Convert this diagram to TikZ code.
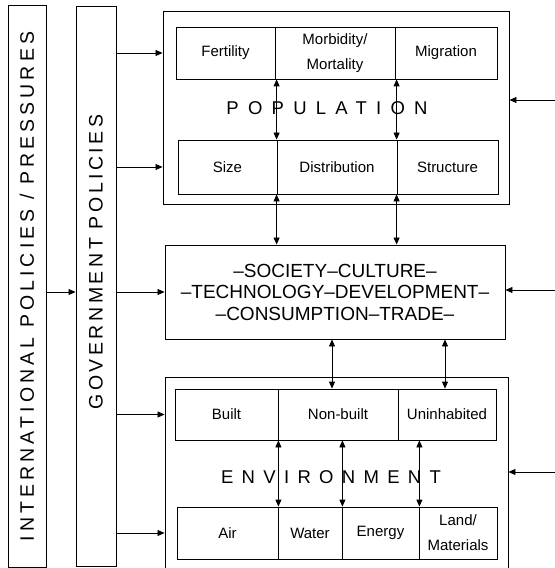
\documentclass[tikz,border=0pt]{standalone}
\usepackage{fontspec}
\setmainfont{Liberation Sans}
\newfontfamily\inttrackfont[LetterSpace=21]{Liberation Sans}
\newfontfamily\govtrackfont[LetterSpace=18]{Liberation Sans}
\newfontfamily\popwidefont[LetterSpace=50]{Liberation Sans}
\newfontfamily\envwidefont[LetterSpace=45]{Liberation Sans}
\usetikzlibrary{arrows.meta}

\tikzset{
  frame/.style={draw, line width=0.9bp, inner sep=0pt},
  cell/.style={draw, line width=0.8bp, inner sep=0pt, align=center,
    font=\fontsize{15bp}{25bp}\selectfont},
  bigtext/.style={rotate=90, inner sep=0pt},
  spacedtitle/.style={inner sep=0pt},
  arr/.style={line width=0.8bp, -{Triangle[length=7bp,width=6bp]}},
  biarr/.style={line width=0.8bp, {Triangle[length=7bp,width=6bp]}-{Triangle[length=7bp,width=6bp]}},
}

\begin{document}
\begin{tikzpicture}[x=1bp,y=-1bp]
\useasboundingbox (0,0) rectangle (555,568);

% policy columns on the left
\node[frame, minimum width=38bp, minimum height=562bp] (intbox) at (27,286) {};
\node[bigtext, font=\fontsize{19.5bp}{22bp}\inttrackfont] (inttext) at (27,286.5)
  {INTERNATIONAL POLICIES / PRESSURES};
\node[frame, minimum width=40bp, minimum height=560bp] (govbox) at (96,286) {};
\node[bigtext, font=\fontsize{19.5bp}{22bp}\govtrackfont] (govtext) at (96,262)
  {GOVERNMENT POLICIES};

% population block
\node[frame, minimum width=346bp, minimum height=193bp] (pop) at (336,107.5) {};
\node[cell, minimum width=99bp, minimum height=52bp] (fert) at (225.5,53) {Fertility};
\node[cell, minimum width=120bp, minimum height=52bp] (morb) at (335,53) {Morbidity/\\Mortality};
\node[cell, minimum width=102bp, minimum height=52bp] (migr) at (446,53) {Migration};
\node[spacedtitle, font=\fontsize{18.5bp}{22bp}\popwidefont] (poptitle) at (327,108) {POPULATION};
\node[cell, minimum width=99bp, minimum height=54bp] (size) at (227.5,167) {Size};
\node[cell, minimum width=120bp, minimum height=54bp] (dist) at (337,167) {Distribution};
\node[cell, minimum width=101bp, minimum height=54bp] (struc) at (447.5,167) {Structure};

% society block
\node[frame, minimum width=340bp, minimum height=94bp, align=center,
  font=\fontsize{19bp}{21.5bp}\selectfont] (soc) at (335,292)
  {--SOCIETY--CULTURE--\\--TECHNOLOGY--DEVELOPMENT--\\--CONSUMPTION--TRADE--};

% environment block
\node[frame, minimum width=343bp, minimum height=195bp] (env) at (336.5,474.5) {};
\node[cell, minimum width=103bp, minimum height=51bp] (built) at (226.5,414.5) {Built};
\node[cell, minimum width=120bp, minimum height=51bp] (nonb) at (338,414.5) {Non-built};
\node[cell, minimum width=98bp, minimum height=51bp] (unin) at (447,414.5) {Uninhabited};
\node[spacedtitle, font=\fontsize{18.5bp}{22bp}\envwidefont] (envtitle) at (331,477) {ENVIRONMENT};
\node[cell, minimum width=101bp, minimum height=52bp] (air) at (227.5,533) {Air};
\node[cell, minimum width=64bp, minimum height=52bp] (water) at (310,533) {Water};
\node[cell, minimum width=77bp, minimum height=52bp] (energy) at (380.5,533) {Energy};
\node[cell, minimum width=78bp, minimum height=52bp] (land) at (458,533) {Land/\\Materials};

% policy arrows
\draw[arr] (intbox.east |- soc) -- (govbox.west |- soc);
\draw[arr] (govbox.east |- fert) -- (pop.west |- fert);
\draw[arr] (govbox.east |- size) -- (pop.west |- size);
\draw[arr] (govbox.east |- soc) -- (soc.west);
\draw[arr] (govbox.east |- built) -- (env.west |- built);
\draw[arr] (govbox.east |- air) -- (env.west |- air);

% inputs from the right
\coordinate (rpop) at (555,100);
\coordinate (rsoc) at (555,290);
\coordinate (renv) at (555,472);
\draw[arr] (rpop) -- (pop.east |- rpop);
\draw[arr] (rsoc) -- (soc.east |- rsoc);
\draw[arr] (renv) -- (env.east |- renv);

% links inside the population block
\draw[biarr] (dist.north west |- morb.south) -- (dist.north west);
\draw[biarr] (struc.north west |- migr.south) -- (struc.north west);

% population <-> society
\draw[biarr] (dist.south west) -- (dist.south west |- soc.north);
\draw[biarr] (struc.south west) -- (struc.south west |- soc.north);

% society <-> environment
\coordinate (e1) at ([xshift=-6bp]nonb.north);
\coordinate (e2) at ([xshift=-2bp]unin.north);
\draw[biarr] (e1 |- soc.south) -- (e1);
\draw[biarr] (e2 |- soc.south) -- (e2);

% links inside the environment block
\draw[biarr] (built.south east) -- (built.south east |- air.north);
\draw[biarr] (water.north east |- nonb.south) -- (water.north east);
\draw[biarr] (energy.north east |- unin.south) -- (energy.north east);
\end{tikzpicture}
\end{document}
